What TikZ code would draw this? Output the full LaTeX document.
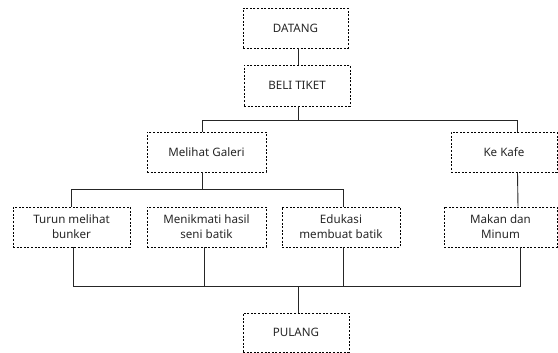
\documentclass[tikz,border=0pt]{standalone}
\usepackage{fontspec}
\setmainfont{Noto Sans}
\usepackage{tikz}
\usetikzlibrary{calc, positioning}

\begin{document}
\begin{tikzpicture}[x=1pt, y=-1pt,
    kotak/.style={draw, line width=0.8pt, dash pattern=on 2pt off 1.6pt,
        minimum height=40pt, align=center, inner sep=2pt, text=black!85,
        font=\fontsize{11.6}{15}\selectfont},
    garis/.style={line width=0.9pt, draw=black!85}]
    \useasboundingbox (0,0) rectangle (558,353);
    % Kotak-kotak alur kunjungan
    \node[kotak, minimum width=105pt] (datang) at (295.5,28) {DATANG};
    \node[kotak, minimum width=106pt, minimum height=41pt] (beli) at (297,85.5) {BELI TIKET};
    \node[kotak, minimum width=119pt] (galeri) at (206.5,152) {Melihat Galeri};
    \node[kotak, minimum width=106pt] (kafe) at (504,152) {Ke Kafe};
    \node[kotak, minimum width=117pt] (turun) at (71.5,227) {Turun melihat\\bunker};
    \node[kotak, minimum width=119pt] (seni) at (206.5,227) {Menikmati hasil\\seni batik};
    \node[kotak, minimum width=118pt] (edukasi) at (341,227) {Edukasi\\membuat batik};
    \node[kotak, minimum width=113pt] (makan) at (500.5,227) {Makan dan\\Minum};
    \node[kotak, minimum width=106pt, minimum height=39pt] (pulang) at (296,332.5) {PULANG};

    % Titik cabang
    \coordinate (cabang1) at (0,120);
    \coordinate (cabang2) at (0,189);
    \coordinate (gabung) at (0,286);
    \coordinate (kafeA) at ([xshift=13pt]kafe.north);
    \coordinate (makanB) at ([xshift=19.5pt]makan.south);
    \coordinate (edukasiA) at ([xshift=2pt]edukasi.north);

    % Garis penghubung
    \draw[garis] ([xshift=2.5pt]datang.south) -- ([xshift=1pt]beli.north);
    \draw[garis] ([xshift=1pt]beli.south) -- ([xshift=1pt]beli.south |- cabang1);
    \draw[garis] ([xshift=-4.5pt]galeri.north) |- (cabang1 -| kafeA) -- (kafeA);
    \draw[garis] ([xshift=-4.5pt]galeri.south) -- ([xshift=-4.5pt]galeri.south |- cabang2);
    \draw[garis] (turun.north) |- (cabang2 -| edukasiA) -- (edukasiA);
    \draw[garis] ([xshift=13.5pt]kafe.south) -- ([xshift=17.5pt]makan.north);
    \draw[garis] ([xshift=1.5pt]turun.south) |- (gabung -| makanB) -- (makanB);
    \draw[garis] ([xshift=-2.5pt]seni.south) -- ([xshift=-2.5pt]seni.south |- gabung);
    \draw[garis] ([xshift=2pt]edukasi.south) -- ([xshift=2pt]edukasi.south |- gabung);
    \draw[garis] ([xshift=2pt]pulang.north |- gabung) -- ([xshift=2pt]pulang.north);
\end{tikzpicture}
\end{document}
